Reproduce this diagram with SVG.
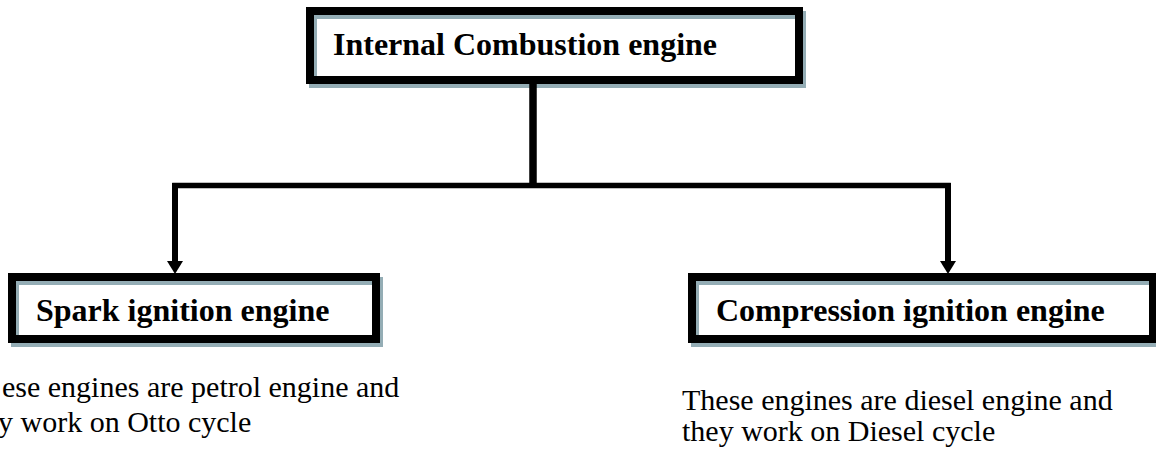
<svg xmlns="http://www.w3.org/2000/svg" width="1156" height="460" viewBox="0 0 1156 460">
<style>
.shadow{fill:none;stroke:#94adb5;stroke-width:8}
.box{fill:none;stroke:#000;stroke-width:8}
.title{font-family:"Liberation Serif","Times New Roman",serif;font-weight:bold;font-size:32px;fill:#000}
.body{font-family:"Liberation Serif","Times New Roman",serif;font-size:30px;fill:#000}
.conn{fill:none;stroke:#000;stroke-linejoin:miter;stroke-linecap:square}
</style>
<defs>
<marker id="arrow" markerUnits="userSpaceOnUse" viewBox="0 0 13 16" refX="0" refY="8" markerWidth="13" markerHeight="16" orient="auto">
<path d="M0,0 L13,8 L0,16 Z" fill="#000"/>
</marker>
</defs>
<rect width="1156" height="460" fill="#fff"/>
<g id="node-ice">
<rect class="shadow" x="313" y="15" width="489" height="69"/>
<rect class="box" x="310" y="11" width="489" height="69"/>
<text class="title" x="333" y="55">Internal Combustion engine</text>
</g>
<g id="node-si">
<rect class="shadow" x="15" y="281" width="364" height="62"/>
<rect class="box" x="12" y="277" width="364" height="62"/>
<text class="title" x="36" y="321">Spark ignition engine</text>
</g>
<g id="node-ci">
<rect class="shadow" x="695" y="281" width="461" height="62"/>
<rect class="box" x="692" y="277" width="461" height="62"/>
<text class="title" x="716" y="321">Compression ignition engine</text>
</g>
<g id="text-si">
<text class="body" x="2" y="397">ese engines are petrol engine and</text>
<text class="body" x="-2" y="432">y work on Otto cycle</text>
</g>
<g id="text-ci">
<text class="body" x="682" y="410">These engines are diesel engine and</text>
<text class="body" x="682" y="441">they work on Diesel cycle</text>
</g>
<g id="connectors">
<path d="M533,84 V185.5" fill="none" stroke="#000" stroke-width="7.5"/>
<path class="conn" d="M175,185.5 H948" stroke-width="5.5"/>
<path d="M175,183 V261" fill="none" stroke="#000" stroke-width="6" marker-end="url(#arrow)"/>
<path d="M948,183 V261" fill="none" stroke="#000" stroke-width="6" marker-end="url(#arrow)"/>
</g>
</svg>
